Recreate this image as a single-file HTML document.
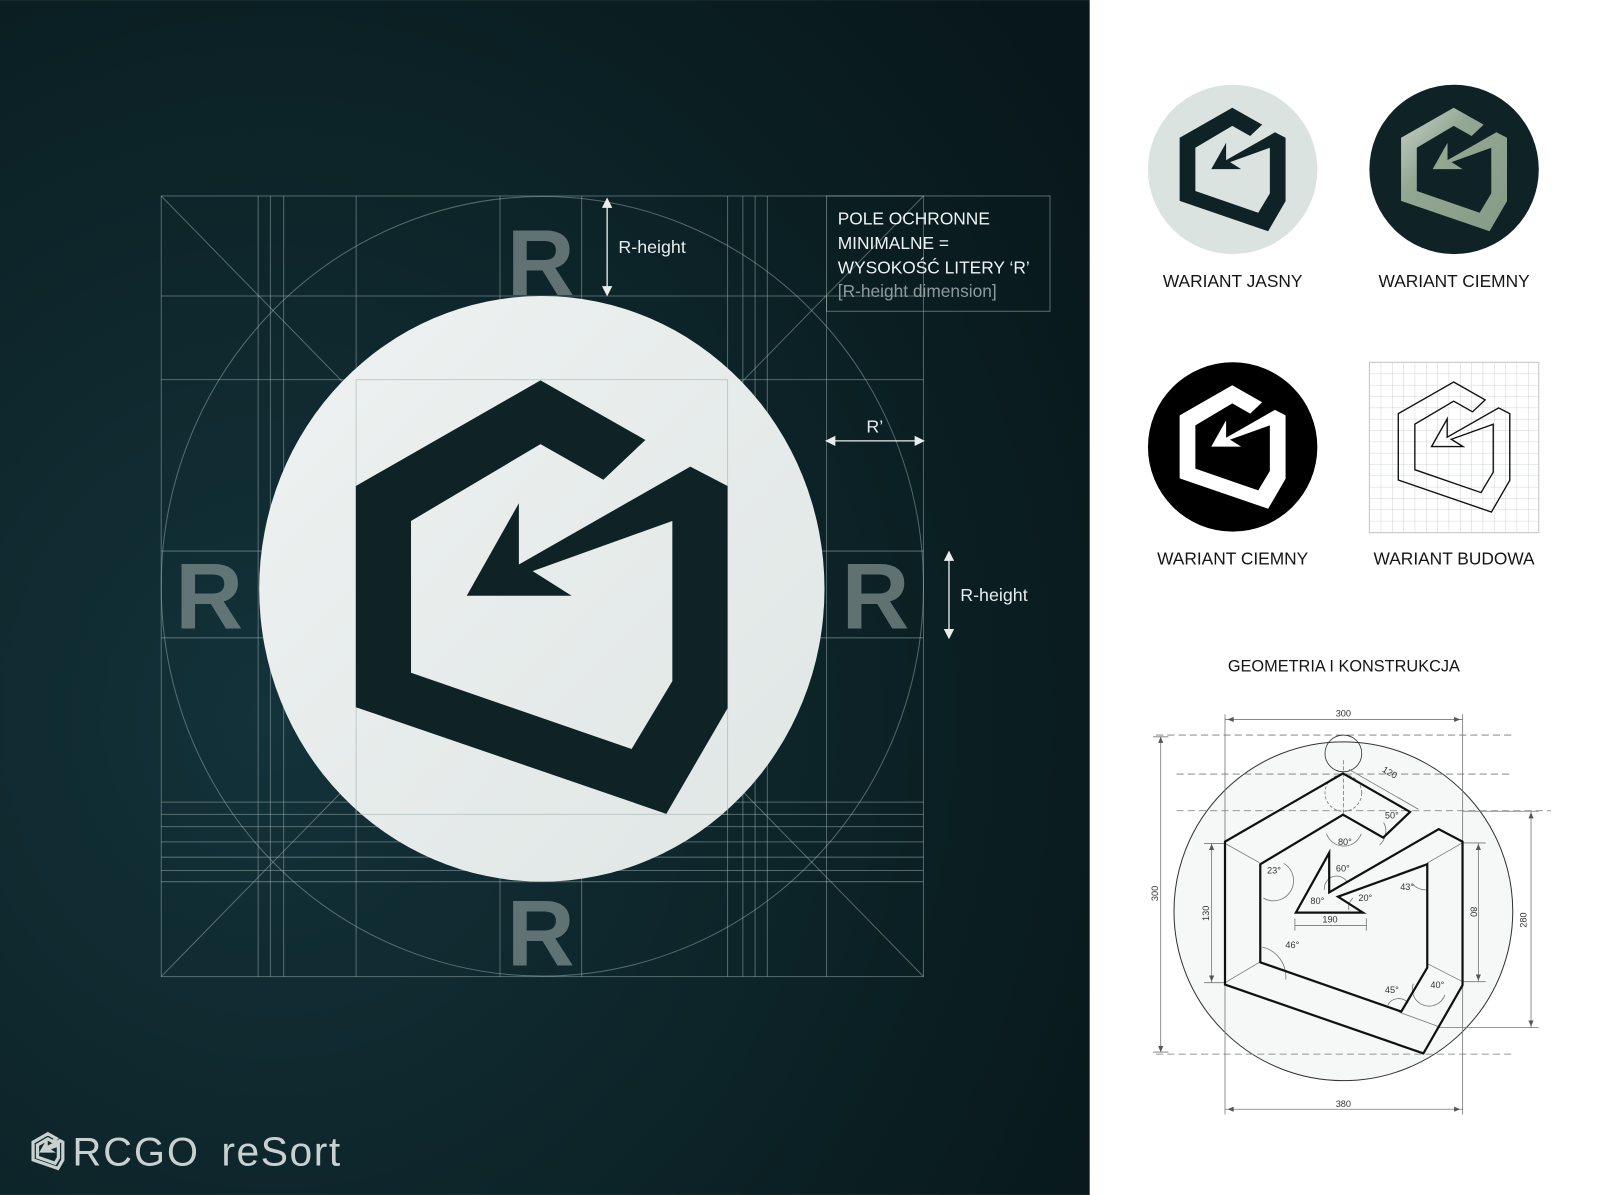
<!DOCTYPE html>
<html><head><meta charset="utf-8"><style>
html,body{margin:0;padding:0;background:#fff;}
svg{display:block;}
text{font-family:"Liberation Sans",sans-serif;}
</style></head><body>
<svg width="1600" height="1195" viewBox="0 0 1568 1171" xmlns="http://www.w3.org/2000/svg">
<defs>
<radialGradient id="bg" cx="0.25" cy="0.6" r="0.9">
<stop offset="0" stop-color="#13323a"/><stop offset="0.6" stop-color="#0c2226"/><stop offset="1" stop-color="#08171a"/>
</radialGradient>
<linearGradient id="wc" x1="0" y1="0" x2="1" y2="1">
<stop offset="0" stop-color="#eef2f2"/><stop offset="1" stop-color="#dfe6e4"/>
</linearGradient>
<linearGradient id="sage" x1="0" y1="0" x2="1" y2="1">
<stop offset="0" stop-color="#c9d3cc"/><stop offset="0.35" stop-color="#93a893"/><stop offset="1" stop-color="#869b86"/>
</linearGradient>
<polygon id="logo" points="529.7,372.7 632.5,431.1 591.3,470.1 529.7,435.2 402.8,510.5 402.8,659.2 619,734 658.9,667.4 658.9,510.5 522,559.7 560.2,583.8 457.4,583.8 508.5,493.1 508.5,553.1 676.5,457.3 713,476.2 713,694 653,797.5 348.7,693 348.7,476.2"/>
<pattern id="grid" width="11.1" height="11.1" patternUnits="userSpaceOnUse" x="1342" y="355">
<path d="M0 0H11.1M0 0V11.1" stroke="#c4c8c8" stroke-width="0.8" fill="none"/>
</pattern>
</defs>
<rect x="0" y="0" width="1068" height="1171" fill="url(#bg)"/>
<rect x="1068" y="0" width="500" height="1171" fill="#ffffff"/>

<g stroke="#a9bcbc" stroke-opacity="0.45" stroke-width="1" fill="none">
<rect x="158" y="192" width="747" height="765"/>
<path d="M253 192V957M265 192V957M278 192V957M349 192V957M490 192V957M570 192V957M713 192V957M728 192V957M740 192V957M752 192V957M810 290V957"/>
<path d="M158 290H905M158 372H905M158 540H905M158 625H905M158 786H905M158 798H905M158 810H905M158 825H905M158 840H905M158 853H905M158 864H905"/>
<path d="M158 192L905 957M905 192L158 957"/>
<ellipse cx="531.5" cy="574.5" rx="373.5" ry="382"/>
</g>
<g fill="#7c8c8c" fill-opacity="0.75" font-weight="bold" font-size="92" text-anchor="middle">
<text x="530" y="289">R</text>
<text x="205" y="616">R</text>
<text x="858" y="616">R</text>
<text x="530" y="946">R</text>
</g>
<ellipse cx="531" cy="577" rx="277" ry="287" fill="url(#wc)"/>
<g stroke="#9aa8a8" stroke-opacity="0.5" stroke-width="1" fill="none">
<rect x="349" y="372" width="364" height="426"/>
</g>
<use href="#logo" fill="#0f2326"/>

<g stroke="#e8eeee" stroke-width="1.3" fill="#e8eeee">
<path d="M595 197V286" fill="none"/><path d="M591 203L595 195L599 203Z"/><path d="M591 281L595 289L599 281Z"/>
<path d="M812 432H903" fill="none"/><path d="M818 428L810 432L818 436Z"/><path d="M897 428L905 432L897 436Z"/>
<path d="M930 543V622" fill="none"/><path d="M926 549L930 541L934 549Z"/><path d="M926 617L930 625L934 617Z"/>
</g>
<g fill="#e6ecec" font-size="17.5">
<text x="606" y="248">R-height</text>
<text x="849" y="424">R’</text>
<text x="941" y="589">R-height</text>
</g>
<rect x="810" y="192" width="219" height="113" fill="none" stroke="#a9bcbc" stroke-opacity="0.5"/>
<g font-size="17" fill="#eef3f3">
<text x="821" y="220">POLE OCHRONNE</text>
<text x="821" y="244">MINIMALNE =</text>
<text x="821" y="268">WYSOKOŚĆ LITERY ‘R’</text>
<text x="821" y="291" fill="#8c9b9b">[R-height dimension]</text>
</g>

<g transform="translate(47,1128) scale(0.08) translate(-531,-585)">
<use href="#logo" fill="none" stroke="#c9d0d0" stroke-width="40"/>
</g>
<text x="71" y="1142" font-size="39" fill="#c9d0d0" letter-spacing="2">RCGO</text>
<text x="217" y="1142" font-size="40" fill="#c9d0d0" letter-spacing="1.5">reSort</text>

<circle cx="1208" cy="166" r="83" fill="#dbe3e1"/>
<g transform="translate(1208,166) scale(0.285) translate(-531,-585)"><use href="#logo" fill="#0f2326"/></g>
<circle cx="1425" cy="166" r="83" fill="#0f2326"/>
<g transform="translate(1425,166) scale(0.285) translate(-531,-585)"><use href="#logo" fill="url(#sage)"/></g>
<circle cx="1208" cy="438" r="83" fill="#000"/>
<g transform="translate(1208,438) scale(0.285) translate(-531,-585)"><use href="#logo" fill="#fff"/></g>
<rect x="1342" y="355" width="166" height="167" fill="url(#grid)" stroke="#c4c8c8"/>
<g transform="translate(1425,438) scale(0.3) translate(-531,-585)"><use href="#logo" fill="none" stroke="#111" stroke-width="4.5"/></g>
<g font-size="17" fill="#151515" text-anchor="middle">
<text x="1208" y="281">WARIANT JASNY</text>
<text x="1425" y="281">WARIANT CIEMNY</text>
<text x="1208" y="553">WARIANT CIEMNY</text>
<text x="1425" y="553">WARIANT BUDOWA</text>
<text x="1317" y="658" font-size="16">GEOMETRIA I KONSTRUKCJA</text>
</g>

<circle cx="1316.5" cy="893" r="166" fill="#f6f7f7" stroke="#333" stroke-width="1"/>
<g stroke="#777" stroke-width="0.8" fill="none">
<path d="M1133 720.3H1482M1153 758.5H1482M1153 794.5H1520M1133 1033H1485" stroke-dasharray="7,4"/>
<path d="M1200.5 700V1092M1433.4 700V1092"/>
<path d="M1200.5 705H1433.4M1200.5 1087H1433.4M1137.5 722V1031M1187.4 826.5V963M1448.8 826V962M1500.4 795V1007"/>
<path d="M1130 722H1145M1130 1031H1145M1180 826.5H1200M1180 963H1200M1433 826H1456M1433 962H1456M1433 795H1508M1408 1007H1508"/>
<circle cx="1316.5" cy="738.3" r="18" stroke="#333"/>
<circle cx="1316.5" cy="777" r="18" stroke-dasharray="3,2"/>
<path d="M1316.5 745V800" stroke-dasharray="4,2"/>
<path d="M1322 754L1390 793"/>
<path d="M1200.5 826.5L1234.2 845.4M1200.5 963L1234.2 943M1433.4 825.8L1398.2 846M1433.4 962L1398.2 944M1371.4 992L1410 1006"/>
<path d="M1269 907H1339M1269 900V912M1339 900V912"/>
<path d="M1300 817A18 18 0 0 0 1334 817M1356 806A18 18 0 0 1 1352 828M1258 846A18 18 0 0 1 1238 880M1237 928A30 30 0 0 1 1260 960M1360 985A12 12 0 0 1 1380 983M1385 964A12 12 0 0 0 1416 975M1384 866A18 18 0 0 0 1398 872M1298 872A12 12 0 0 1 1320 864M1326 880A12 12 0 0 0 1322 892"/>
</g>
<g fill="#555">
<path d="M1203 705l6-2.5v5z M1431 705l-6-2.5v5z M1203 1087l6-2.5v5z M1431 1087l-6-2.5v5z M1137.5 722l-2.5 6h5z M1137.5 1031l-2.5-6h5z M1187.4 827l-2.5 6h5z M1187.4 962l-2.5-6h5z M1448.8 827l-2.5 6h5z M1448.8 961l-2.5-6h5z M1500.4 796l-2.5 6h5z M1500.4 1006l-2.5-6h5z"/>
</g>
<g transform="translate(1200.5,757.9) scale(0.639,0.646) translate(-348.7,-372.7)">
<use href="#logo" fill="none" stroke="#111" stroke-width="3.4"/>
</g>
<g font-size="9" fill="#333" text-anchor="middle">
<text x="1316.5" y="702">300</text>
<text x="1316.5" y="1085">380</text>
<text x="1303.4" y="904">190</text>
<text x="1318" y="828">80°</text>
<text x="1364" y="802">50°</text>
<text x="1248.5" y="856">23°</text>
<text x="1316" y="854">60°</text>
<text x="1379" y="872">43°</text>
<text x="1291" y="886">80°</text>
<text x="1338" y="883">20°</text>
<text x="1266.5" y="929">46°</text>
<text x="1364" y="973">45°</text>
<text x="1408.6" y="968">40°</text>
<text x="1362" y="760" transform="rotate(30 1362 757)">120</text>
<text transform="translate(1135,875.5) rotate(-90)">300</text>
<text transform="translate(1185,895) rotate(-90)">130</text>
<text transform="translate(1441,893.5) rotate(90)">80</text>
<text transform="translate(1496,901.6) rotate(-90)">280</text>
</g>
</svg>
</body></html>
